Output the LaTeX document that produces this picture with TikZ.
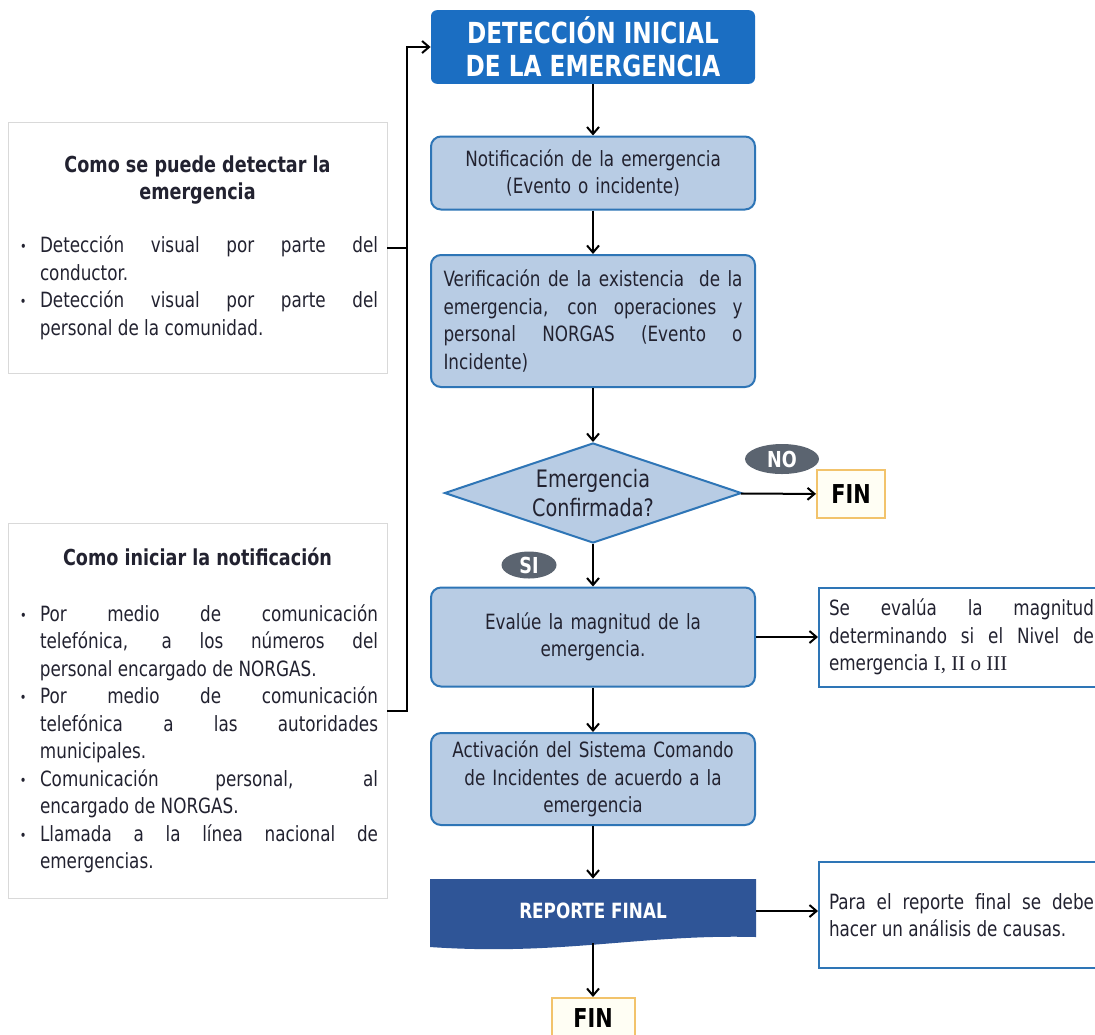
\documentclass[tikz,border=0pt]{standalone}
\usepackage{fontspec}
\setmainfont{DejaVu Sans}[FakeStretch=0.8]
\newfontfamily\romnum{Liberation Serif}
\usetikzlibrary{arrows.meta,positioning,calc,shapes.geometric}
\definecolor{titleblue}{HTML}{1B6EC2}
\definecolor{procfill}{HTML}{B8CCE4}
\definecolor{procline}{HTML}{2E75B6}
\definecolor{repblue}{HTML}{2F5597}
\definecolor{taggrey}{HTML}{5B6470}
\definecolor{fingold}{HTML}{F2C36B}
\definecolor{finfill}{HTML}{FFFEF4}
\definecolor{txt}{HTML}{222230}
\newcommand{\bodyfont}{\fontsize{10.5}{13.75}\selectfont}
\newcommand{\loose}{\tolerance=10000\hbadness=10000\hyphenpenalty=10000\exhyphenpenalty=10000}
\newcommand{\bitem}[1]{\par\hangindent=11.5pt\hangafter=1\noindent\makebox[11.5pt][l]{\hspace{1.5pt}\raisebox{0.5pt}{\scriptsize\textbullet}}#1\par}

\begin{document}
\begin{tikzpicture}[x=0.5pt,y=-0.5pt,>={Straight Barb[length=3.5pt,width=6pt]},
  flow/.style={->,line width=1pt},
  proc/.style={draw=procline,fill=procfill,line width=1pt,rounded corners=5pt,
    minimum width=162pt,text width=149.5pt,align=center,text=txt,font=\bodyfont},
  decide/.style={diamond,draw=procline,fill=procfill,line width=1pt,aspect=2.97,
    minimum width=148.5pt,minimum height=50pt,inner sep=0pt,align=center,text=txt,
    font=\fontsize{12}{14.5}\selectfont},
  fin/.style={draw=fingold,fill=finfill,line width=1pt,inner sep=0pt,
    font=\fontsize{13}{15}\selectfont\bfseries},
  tag/.style={ellipse,fill=taggrey,text=white,inner sep=0pt,font=\fontsize{11}{13}\selectfont\bfseries},
  note/.style={draw=procline,fill=white,line width=1pt,anchor=west,text width=132.5pt,
    inner xsep=5pt,align=justify,text=txt,font=\bodyfont\loose},
  leftbox/.style={draw=black!15,fill=white,text width=180.5pt,inner xsep=4.5pt,
    minimum width=189.5pt,align=justify,text=txt,font=\bodyfont\loose}]
\fill[white] (0,0) rectangle (1095,1034);
\useasboundingbox (0,0) rectangle (1095,1034);

% main column
\node[fill=titleblue,rounded corners=3pt,minimum width=162pt,minimum height=35.5pt,
  align=center,text=white,font=\fontsize{14.5}{16.5}\selectfont\bfseries] (title) at (593,47)
  {DETECCIÓN INICIAL\\DE LA EMERGENCIA};
\node[proc,minimum height=36.5pt] (notif) at (593,173)
  {Notificación de la emergencia\\(Evento o incidente)};
\node[proc,minimum height=66pt,align=justify,font=\bodyfont\loose] (verif) at (593,321)
  {Verificación de la existencia \ de la\linebreak emergencia, con operaciones y\linebreak
   personal NORGAS (Evento o\linebreak Incidente)};
\node[decide] (diam) at (593,493) {Emergencia\\Confirmada?};
\node[fin,minimum width=34pt,minimum height=24pt] (fin1) at (851,494) {FIN};
\node[tag,minimum width=37pt,minimum height=15pt] (no) at (782,459) {NO};
\node[tag,minimum width=27.5pt,minimum height=13.5pt] (si) at (529,565) {SI};
\node[proc,minimum height=49.5pt] (eval) at (593,637)
  {Evalúe la magnitud de la\\emergencia.};
\node[proc,minimum height=46pt] (activ) at (593,779)
  {Activación del Sistema Comando\\de Incidentes de acuerdo a la\\emergencia};
\fill[repblue] (430,879) -- (756,879) -- (756,937)
  .. controls (641,934) and (561,956) .. (430,947) -- cycle;
\node[minimum width=163pt,minimum height=32pt,text=white,
  font=\fontsize{10.5}{13}\selectfont\bfseries] (report) at (593,911) {REPORTE FINAL};
\node[fin,minimum width=41.5pt,minimum height=20pt] (fin2) at (593,1018) {FIN};

% side notes
\node[note,minimum height=49.5pt] (side1) at (818,637)
  {Se evalúa la magnitud\linebreak determinando si el Nivel de\linebreak
   emergencia {\romnum I, II o III}};
\node[note,minimum height=53pt] (side2) at (818,915)
  {Para el reporte final se debe\linebreak hacer un análisis de causas.};

% left boxes
\node[leftbox,minimum height=125.5pt] (left1) at (197.5,247.5)
  {{\centering\fontsize{11}{13.5}\selectfont\bfseries Como se puede detectar la\\emergencia\par}
   \vspace{13pt}
   \bitem{Detección visual por parte del\linebreak conductor.}
   \bitem{Detección visual por parte del\linebreak personal de la comunidad.}};
\node[leftbox,minimum height=187.5pt] (left2) at (197.5,710.5)
  {{\centering\fontsize{11}{13.5}\selectfont\bfseries Como iniciar la notificación\par}
   \vspace{14pt}
   \bitem{Por medio de comunicación\linebreak telefónica, a los números del\linebreak
     personal encargado de NORGAS.}
   \bitem{Por medio de comunicación\linebreak telefónica a las autoridades\linebreak
     municipales.}
   \bitem{Comunicación personal, al\linebreak encargado de NORGAS.}
   \bitem{Llamada a la línea nacional de\linebreak emergencias.}};

% connectors
\draw[flow] (title) -- (notif);
\draw[flow] (notif) -- (verif);
\draw[flow] (verif) -- (diam);
\draw[flow] (diam) -- (fin1);
\draw[flow] (diam) -- (eval);
\draw[flow] (eval.east) -- (eval.east -| side1.west);
\draw[flow] (eval) -- (activ);
\draw[flow] (activ) -- (report);
\draw[flow] (report.east) -- (report.east -| side2.west);
\draw[flow] (report) -- (fin2);
\draw[line width=1pt] (left1.east) -- ++(20,0);
\draw[flow] (left2.east) -- ++(20,0) |- (title.west);
\end{tikzpicture}
\end{document}
